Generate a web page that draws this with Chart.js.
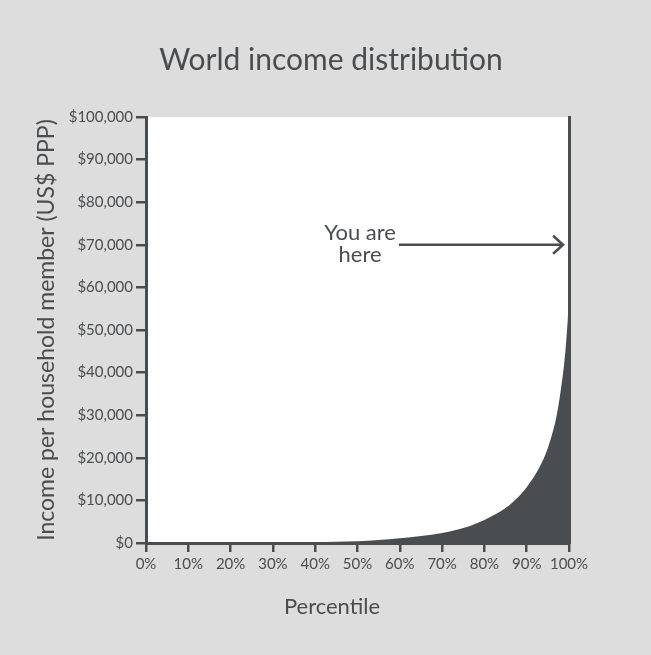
<!DOCTYPE html>
<html>
<head>
<meta charset="utf-8">
<title>World income distribution</title>
<script src="https://cdn.jsdelivr.net/npm/chart.js@4"></script>
<style>
  html, body { margin: 0; padding: 0; background: #dcdddc; overflow: hidden; }
  #wrap { width: 651px; height: 655px; position: relative; }
</style>
</head>
<body>
<div id="wrap"><canvas id="chart"></canvas></div>
<script>
// world income by percentile
var percentiles = [0, 10, 20, 30, 40, 45, 50, 55, 60, 65, 70, 75, 80, 85, 88, 90, 92, 94, 95, 96, 97, 98, 99, 99.5, 100];
var incomes = [20, 40, 70, 110, 180, 280, 420, 700, 1100, 1650, 2350, 3500, 5400, 8200, 10800, 13100, 16000, 19800, 22300, 25500, 29500, 35500, 43500, 49500, 57000];

var yTickStep = 10000;
var xTickStep = 10;

// "You are here" note
var noteLines = ["You are", "here"];
var noteX = 50.6;
var arrowFrom = 59.8;
var arrowTo = 98.6;
var arrowIncome = 70000;

var ink = "#4a4d50";
var font = "Lato, 'Noto Sans', sans-serif";

var points = percentiles.map(function (p, i) { return { x: p, y: incomes[i] }; });

var plotBackground = {
    id: "plotBackground",
    beforeDraw: function (chart) {
        var a = chart.chartArea, ctx = chart.ctx;
        ctx.save();
        ctx.fillStyle = "#ffffff";
        ctx.fillRect(a.left, a.top, a.right - a.left, a.bottom - a.top);
        ctx.restore();
    }
};

var notes = {
    id: "notes",
    afterDraw: function (chart) {
        var ctx = chart.ctx, xs = chart.scales.x, ys = chart.scales.y;
        ctx.save();
        ctx.fillStyle = ink;
        ctx.strokeStyle = ink;
        ctx.textAlign = "center";
        ctx.textBaseline = "middle";

        // x axis title, centred on the page like the original
        ctx.font = "22px " + font;
        ctx.fillText("Percentile", 332, 607);

        // note text
        var tx = xs.getPixelForValue(noteX);
        var ty = ys.getPixelForValue(arrowIncome);
        ctx.fillText(noteLines[0], tx, ty - 12);
        ctx.fillText(noteLines[1], tx, ty + 10);

        // arrow
        var x1 = xs.getPixelForValue(arrowFrom);
        var x2 = xs.getPixelForValue(arrowTo);
        ctx.lineWidth = 2.5;
        ctx.beginPath();
        ctx.moveTo(x1, ty);
        ctx.lineTo(x2, ty);
        ctx.stroke();
        ctx.beginPath();
        ctx.moveTo(x2 - 10, ty - 9);
        ctx.lineTo(x2, ty);
        ctx.lineTo(x2 - 10, ty + 9);
        ctx.stroke();
        ctx.restore();
    }
};

var ctx = document.getElementById("chart");
var chart = new Chart(ctx, {
    type: "line",
    data: {
        datasets: [
            {
                label: "Income",
                data: points,
                fill: "origin",
                backgroundColor: ink,
                borderColor: ink,
                borderWidth: 0,
                pointRadius: 0,
                cubicInterpolationMode: "monotone"
            }
        ]
    },
    options: {
        responsive: true,
        maintainAspectRatio: false,
        animation: false,
        events: [],
        layout: { padding: { left: 20, right: 9, top: 0, bottom: 0 } },
        plugins: {
            legend: { display: false },
            tooltip: { enabled: false },
            title: {
                display: true,
                text: "World income distribution",
                color: ink,
                font: { family: font, size: 30, weight: "normal" },
                padding: { top: 42, bottom: 39 }
            }
        },
        scales: {
            x: {
                type: "linear",
                min: 0,
                max: 100,
                afterFit: function (s) { s.height = 112; },
                grid: { drawOnChartArea: false, color: ink, lineWidth: 2.5, tickLength: 9 },
                border: { color: ink, width: 3 },
                ticks: {
                    stepSize: xTickStep,
                    color: ink,
                    padding: 3,
                    maxRotation: 0,
                    font: { family: font, size: 15 },
                    callback: function (v) { return v + "%"; }
                }
            },
            y: {
                min: 0,
                max: 100000,
                afterFit: function (s) { s.width = 126; },
                grid: { drawOnChartArea: false, color: ink, lineWidth: 2.5, tickLength: 10 },
                border: { color: ink, width: 3 },
                ticks: {
                    stepSize: yTickStep,
                    color: ink,
                    padding: 3,
                    font: { family: font, size: 15 },
                    callback: function (v) { return "$" + v.toLocaleString("en-US"); }
                },
                title: {
                    display: true,
                    text: "Income per household member (US$ PPP)",
                    color: ink,
                    font: { family: font, size: 23 },
                    padding: { top: 13, bottom: 0 }
                }
            },
            y2: {
                position: "right",
                min: 0,
                max: 1,
                afterFit: function (s) { s.width = 73; },
                grid: { display: false },
                ticks: { display: false },
                border: { color: ink, width: 3 }
            }
        }
    },
    plugins: [plotBackground, notes]
});
</script>
</body>
</html>
